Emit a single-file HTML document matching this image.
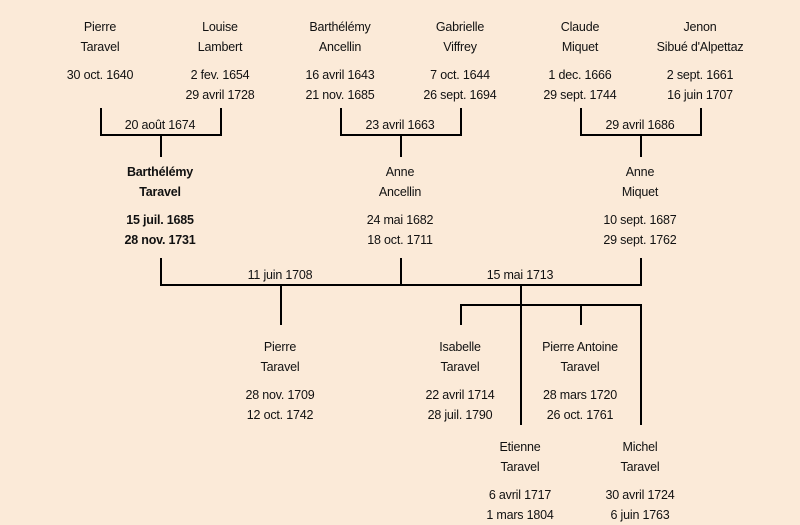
<!DOCTYPE html>
<html><head><meta charset="utf-8"><style>
body{margin:0;width:800px;height:521px;background:#fbead8;position:relative;overflow:hidden;font-family:"Liberation Sans","DejaVu Sans",sans-serif;font-size:12.5px;letter-spacing:-0.2px;color:#111}
.t{position:absolute;width:140px;text-align:center;line-height:20px;white-space:nowrap}
.b{font-weight:bold}
svg{position:absolute;left:0;top:0}
</style></head><body>
<svg width="800" height="521"><g stroke="#000" stroke-width="2" fill="none">
<path d="M101 108V135H221V108M161 135V157"/>
<path d="M341 108V135H461V108M401 135V157"/>
<path d="M581 108V135H701V108M641 135V157"/>
<path d="M161 258V285H641V258M401 258V285M281 285V325M521 285V425M461 325V305H641V425M581 305V325"/>
</g></svg>
<div class="t" style="left:30px;top:17px">Pierre<br>Taravel</div>
<div class="t" style="left:30px;top:65px">30 oct. 1640</div>
<div class="t" style="left:150px;top:17px">Louise<br>Lambert</div>
<div class="t" style="left:150px;top:65px">2 fev. 1654<br>29 avril 1728</div>
<div class="t" style="left:270px;top:17px">Barthélémy<br>Ancellin</div>
<div class="t" style="left:270px;top:65px">16 avril 1643<br>21 nov. 1685</div>
<div class="t" style="left:390px;top:17px">Gabrielle<br>Viffrey</div>
<div class="t" style="left:390px;top:65px">7 oct. 1644<br>26 sept. 1694</div>
<div class="t" style="left:510px;top:17px">Claude<br>Miquet</div>
<div class="t" style="left:510px;top:65px">1 dec. 1666<br>29 sept. 1744</div>
<div class="t" style="left:630px;top:17px">Jenon<br>Sibué d'Alpettaz</div>
<div class="t" style="left:630px;top:65px">2 sept. 1661<br>16 juin 1707</div>
<div class="t" style="left:90px;top:115px">20 août 1674</div>
<div class="t" style="left:330px;top:115px">23 avril 1663</div>
<div class="t" style="left:570px;top:115px">29 avril 1686</div>
<div class="t b" style="left:90px;top:162px">Barthélémy<br>Taravel</div>
<div class="t b" style="left:90px;top:210px">15 juil. 1685<br>28 nov. 1731</div>
<div class="t" style="left:330px;top:162px">Anne<br>Ancellin</div>
<div class="t" style="left:330px;top:210px">24 mai 1682<br>18 oct. 1711</div>
<div class="t" style="left:570px;top:162px">Anne<br>Miquet</div>
<div class="t" style="left:570px;top:210px">10 sept. 1687<br>29 sept. 1762</div>
<div class="t" style="left:210px;top:265px">11 juin 1708</div>
<div class="t" style="left:450px;top:265px">15 mai 1713</div>
<div class="t" style="left:210px;top:337px">Pierre<br>Taravel</div>
<div class="t" style="left:210px;top:385px">28 nov. 1709<br>12 oct. 1742</div>
<div class="t" style="left:390px;top:337px">Isabelle<br>Taravel</div>
<div class="t" style="left:390px;top:385px">22 avril 1714<br>28 juil. 1790</div>
<div class="t" style="left:510px;top:337px">Pierre Antoine<br>Taravel</div>
<div class="t" style="left:510px;top:385px">28 mars 1720<br>26 oct. 1761</div>
<div class="t" style="left:450px;top:437px">Etienne<br>Taravel</div>
<div class="t" style="left:450px;top:485px">6 avril 1717<br>1 mars 1804</div>
<div class="t" style="left:570px;top:437px">Michel<br>Taravel</div>
<div class="t" style="left:570px;top:485px">30 avril 1724<br>6 juin 1763</div>
</body></html>
